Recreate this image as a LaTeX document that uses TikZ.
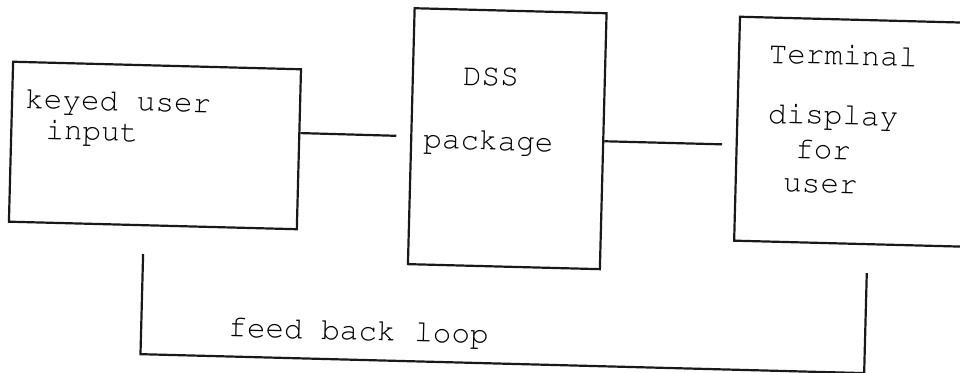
\documentclass[tikz,border=0pt]{standalone}
\usepackage[T1]{fontenc}
\renewcommand{\ttdefault}{pcr}
\usetikzlibrary{calc}

\tikzset{
  block/.style={draw=black!90, line width=2.2pt, rectangle, inner sep=0pt},
  wire/.style={draw=black!90, line width=2.2pt},
  label/.style={anchor=base west, inner sep=0pt, text height=20pt, text depth=5pt,
    font=\ttfamily\fontsize{31}{31}\selectfont, text=black},
}

\begin{document}
\begin{tikzpicture}[x=1pt, y=1pt]
  \useasboundingbox (0,0) rectangle (960,372);
  \clip (0,0) rectangle (960,372);
  \fill[white] (0,0) rectangle (960,372);

  % the sheet sits a little askew
  \begin{scope}[rotate around={-1.5:(480,186)}, transform shape]
    % blocks
    \node[block, minimum width=288pt, minimum height=160pt] (key) at (154,218) {};
    \node[block, minimum width=192pt, minimum height=256pt] (dss) at (506,234) {};
    \node[block, minimum width=275pt, minimum height=224pt] (term) at (873,250) {};

    % block texts
    \node[label] (keyA) at (23,252) {keyed user};
    \node[label] (keyB) at (44,221.5) {input};
    \node[label] (dssA) at (460,286.5) {DSS};
    \node[label] (dssB) at (422,222) {package};
    \node[label] (termA) at (765,316.5) {Terminal};
    \node[label] (termB) at (766,256.5) {display};
    \node[label] (termC) at (794,222) {for};
    \node[label] (termD) at (783,188) {user};

    % links between blocks (open ends)
    \coordinate (c1) at (395,234);
    \coordinate (c2) at (721,234);
    \draw[wire] ($(key.north east)!0.4!(key.south east)$) -- (c1);
    \draw[wire] (dss.east) -- (c2);

    % feedback loop under the blocks
    \coordinate (fbl) at (145,109);
    \coordinate (fbla) at (145,9);
    \coordinate (fbra) at (869,9);
    \coordinate (fbr) at (869,109);
    \draw[wire] (fbl) -- (fbla) -- (fbra) -- (fbr);
    \node[label] (fbtext) at (232,28.5) {feed back loop};
  \end{scope}
\end{tikzpicture}
\end{document}
